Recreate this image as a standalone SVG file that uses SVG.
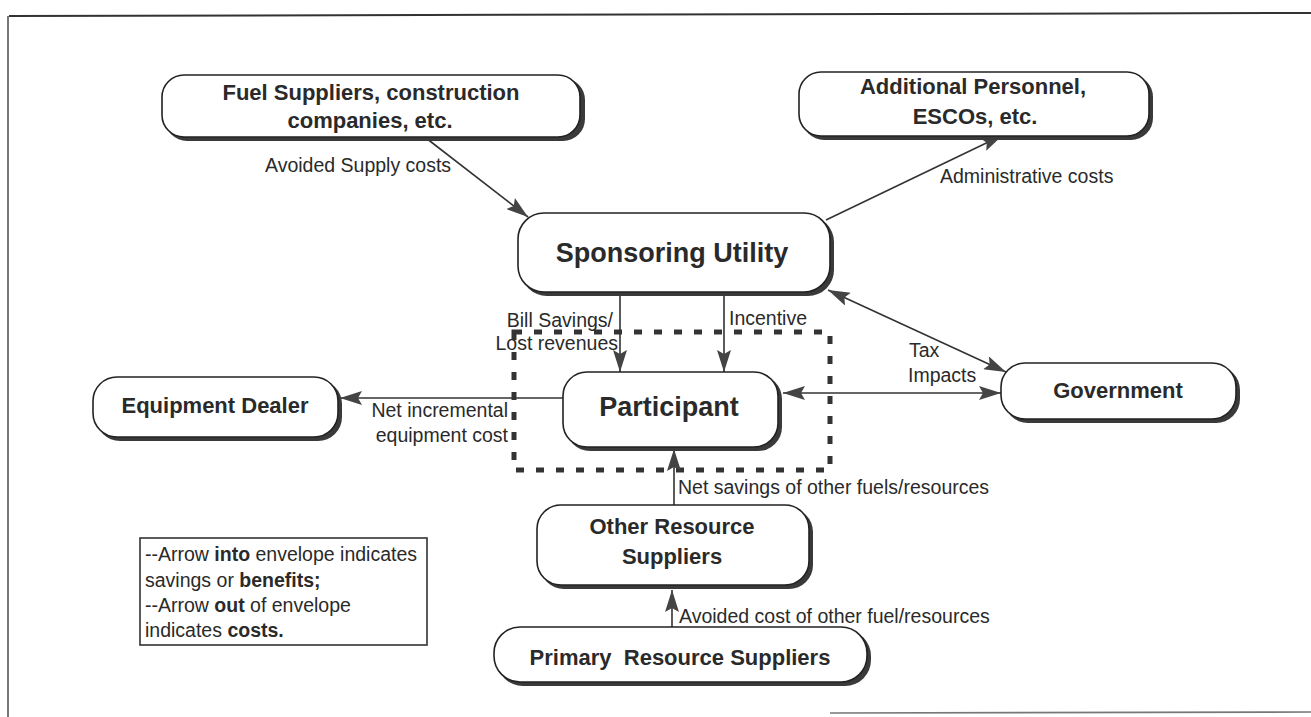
<svg xmlns="http://www.w3.org/2000/svg" width="1311" height="717" viewBox="0 0 1311 717">
<style>
.box{fill:#fff;stroke:#222;stroke-width:1.6}
.sh{fill:#3a3a3a}
.nt{font-family:"Liberation Sans",Arial,sans-serif;font-weight:bold;fill:#2a2a2a;text-anchor:middle}
.lb{font-family:"Liberation Sans",Arial,sans-serif;font-size:19.5px;fill:#2a2a2a}
.ln{stroke:#333;stroke-width:1.6;fill:none}
.lg{font-family:"Liberation Sans",Arial,sans-serif;font-size:19.5px;fill:#2a2a2a}
</style>
<defs>
<marker id="ah" viewBox="0 0 22 14" refX="22" refY="7" markerWidth="22" markerHeight="14" markerUnits="userSpaceOnUse" orient="auto-start-reverse">
<path d="M0,0 L22,7 L0,14 L4,7 Z" fill="#444"/>
</marker>
</defs>
<rect width="1311" height="717" fill="#fff"/>
<g id="frame">
<path d="M9,16 L1311,13" stroke="#333" stroke-width="2" fill="none"/>
<path d="M8,16 L8,717" stroke="#555" stroke-width="1.6" fill="none"/>
<path d="M830,713 L1311,712" stroke="#777" stroke-width="1.6" fill="none"/>
</g>
<g id="envelope">
<rect x="514" y="332" width="316" height="138" fill="none" stroke="#333" stroke-width="5" stroke-dasharray="8 12"/>
</g>
<g id="connectors">
<line class="ln" x1="426" y1="138" x2="528" y2="217" marker-end="url(#ah)"/>
<line class="ln" x1="826" y1="220" x2="1003" y2="135" marker-end="url(#ah)"/>
<line class="ln" x1="828" y1="290" x2="1006" y2="372" marker-start="url(#ah)" marker-end="url(#ah)"/>
<line class="ln" x1="783" y1="393" x2="1001" y2="393" marker-start="url(#ah)" marker-end="url(#ah)"/>
<line class="ln" x1="563" y1="398" x2="340" y2="398" marker-end="url(#ah)"/>
<line class="ln" x1="620" y1="294" x2="620" y2="372" marker-end="url(#ah)"/>
<line class="ln" x1="724" y1="294" x2="724" y2="372" marker-end="url(#ah)"/>
<line class="ln" x1="674" y1="505" x2="674" y2="449" marker-end="url(#ah)"/>
<line class="ln" x1="672" y1="627" x2="672" y2="590" marker-end="url(#ah)"/>
<text class="lb" x="265" y="172">Avoided Supply costs</text>
<text class="lb" x="940" y="183">Administrative costs</text>
<text class="lb" x="613" y="327" text-anchor="end">Bill Savings/</text>
<text class="lb" x="618" y="350" text-anchor="end">Lost revenues</text>
<text class="lb" x="729" y="325">Incentive</text>
<text class="lb" x="909" y="357">Tax</text>
<text class="lb" x="908" y="382">Impacts</text>
<text class="lb" x="508" y="417" text-anchor="end">Net incremental</text>
<text class="lb" x="508" y="442" text-anchor="end">equipment cost</text>
<text class="lb" x="678" y="494">Net savings of other fuels/resources</text>
<text class="lb" x="679" y="623">Avoided cost of other fuel/resources</text>
</g>
<g id="fuel-suppliers">
<rect class="sh" x="165" y="78" width="420" height="63" rx="22"/>
<rect class="box" x="162" y="75" width="418" height="62" rx="22"/>
<text class="nt" x="371" y="100" font-size="22">Fuel Suppliers, construction</text>
<text class="nt" x="370" y="128" font-size="22">companies, etc.</text>
</g>
<g id="additional-personnel">
<rect class="sh" x="802" y="75" width="351" height="65" rx="22"/>
<rect class="box" x="799" y="72" width="350" height="64" rx="22"/>
<text class="nt" x="973" y="94" font-size="22">Additional Personnel,</text>
<text class="nt" x="975" y="124" font-size="22">ESCOs, etc.</text>
</g>
<g id="sponsoring-utility">
<rect class="sh" x="521" y="216" width="313" height="80" rx="26"/>
<rect class="box" x="518" y="213" width="312" height="79" rx="26"/>
<text class="nt" x="672" y="262" font-size="27">Sponsoring Utility</text>
</g>
<g id="participant">
<rect class="sh" x="566" y="375" width="216" height="76" rx="24"/>
<rect class="box" x="563" y="372" width="215" height="75" rx="24"/>
<text class="nt" x="669" y="416" font-size="27">Participant</text>
</g>
<g id="equipment-dealer">
<rect class="sh" x="96" y="380" width="246" height="61" rx="24"/>
<rect class="box" x="93" y="377" width="245" height="60" rx="24"/>
<text class="nt" x="215" y="413" font-size="22">Equipment Dealer</text>
</g>
<g id="government">
<rect class="sh" x="1004" y="366" width="236" height="57" rx="24"/>
<rect class="box" x="1001" y="363" width="235" height="56" rx="24"/>
<text class="nt" x="1118" y="398" font-size="22">Government</text>
</g>
<g id="other-resource-suppliers">
<rect class="sh" x="540" y="508" width="273" height="81" rx="24"/>
<rect class="box" x="537" y="505" width="272" height="80" rx="24"/>
<text class="nt" x="672" y="534" font-size="22">Other Resource</text>
<text class="nt" x="672" y="564" font-size="22">Suppliers</text>
</g>
<g id="primary-resource-suppliers">
<rect class="sh" x="497" y="630" width="374" height="56" rx="26"/>
<rect class="box" x="494" y="627" width="373" height="55" rx="26"/>
<text class="nt" x="680" y="665" font-size="22" style="white-space:pre">Primary  Resource Suppliers</text>
</g>
<g id="legend">
<rect x="140" y="538" width="287" height="107" fill="#fff" stroke="#333" stroke-width="1.6"/>
<text class="lg" x="145" y="561">--Arrow <tspan font-weight="bold">into</tspan> envelope indicates</text>
<text class="lg" x="145" y="587">savings or <tspan font-weight="bold">benefits;</tspan></text>
<text class="lg" x="145" y="612">--Arrow <tspan font-weight="bold">out</tspan> of envelope</text>
<text class="lg" x="145" y="637">indicates <tspan font-weight="bold">costs.</tspan></text>
</g>
</svg>
